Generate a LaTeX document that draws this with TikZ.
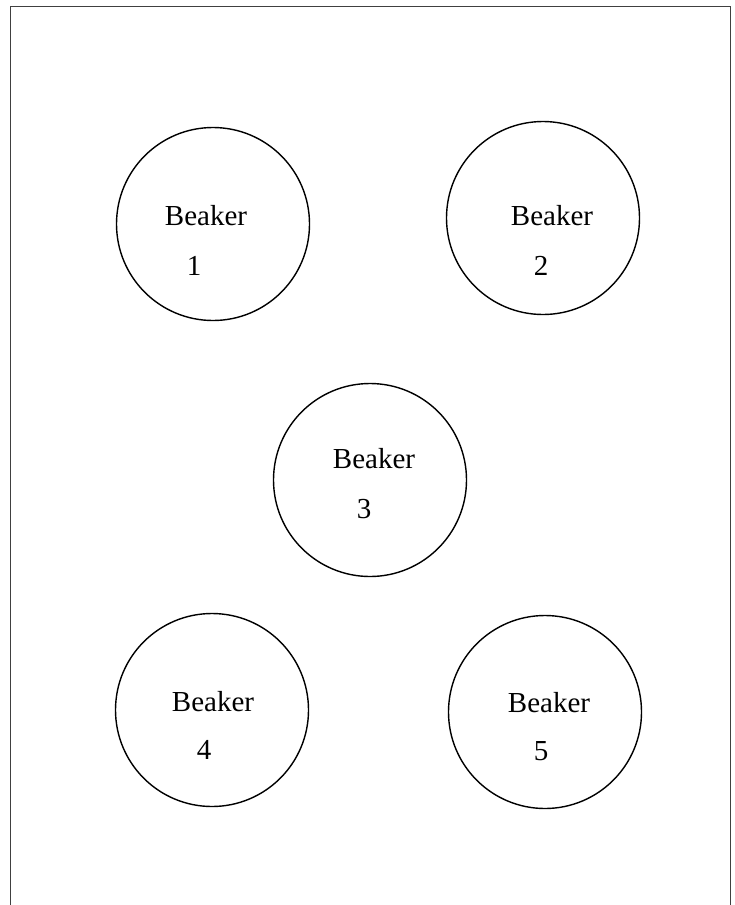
\documentclass[tikz,border=0pt]{standalone}
\usepackage{fontspec}
\setmainfont{Liberation Serif}
\usetikzlibrary{positioning, calc}

\begin{document}
\begin{tikzpicture}[x=1pt, y=-1pt,
    beaker/.style={draw, circle, line width=1.4pt, minimum size=193pt, inner sep=0pt},
    beakertext/.style={font=\fontsize{29}{34}\selectfont, inner sep=0pt, anchor=base}]
\useasboundingbox (0,0) rectangle (734,905);

% Outer frame (open at the bottom)
\draw[line width=0.9pt, black!75] (10,905) -- (10,6) -- (730,6) -- (730,905);

% Beakers
\foreach \n/\x/\y/\wx/\wy/\nx/\ny in {1/213/224/-7/1/-19/51, 2/543/218/9/7/-2/57,
    3/370/480/4/-12/-6/38, 4/212/710/1/1/-8/49, 5/545/712/4/0/-4/48} {
    \node[beaker] (b\n) at (\x,\y) {};
    \node[beakertext] (w\n) at ($(b\n)+(\wx,\wy)$) {Beaker};
    \node[beakertext] (n\n) at ($(b\n)+(\nx,\ny)$) {\n};
}
\end{tikzpicture}
\end{document}
